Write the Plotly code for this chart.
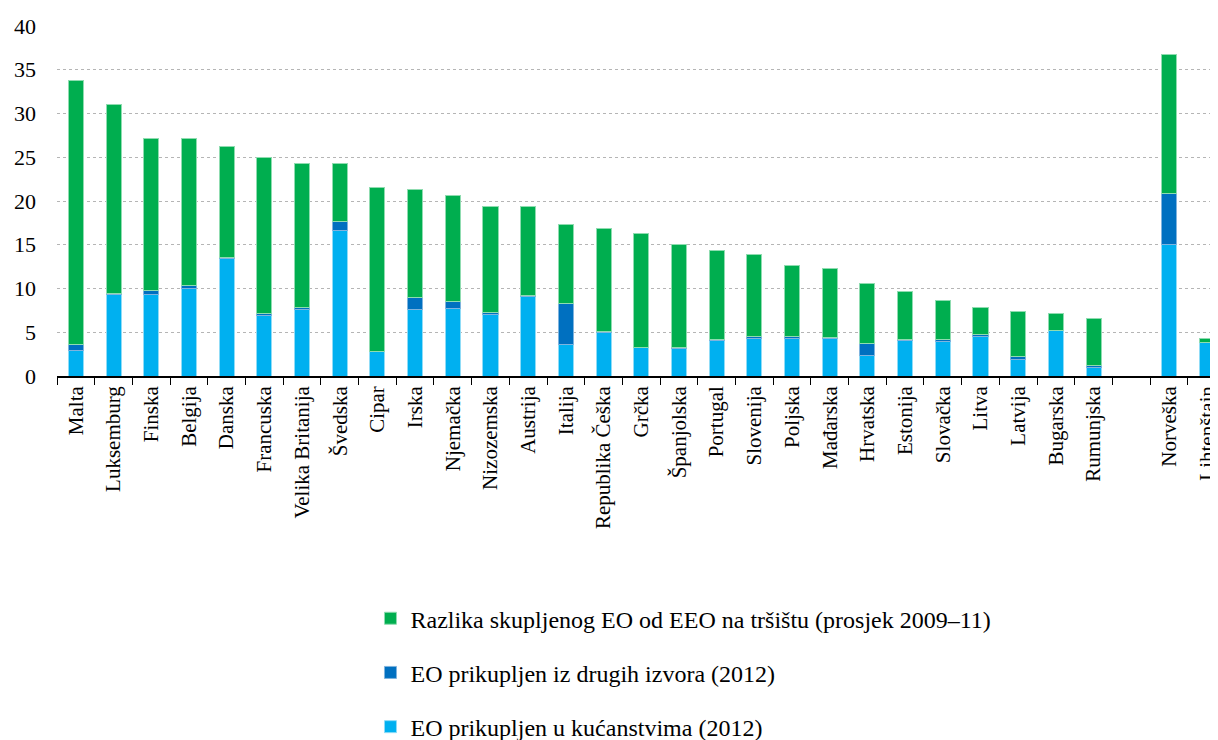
import plotly.graph_objects as go

countries = ["Malta", "Luksemburg", "Finska", "Belgija", "Danska", "Francuska",
             "Velika Britanija", "Švedska", "Cipar", "Irska", "Njemačka", "Nizozemska",
             "Austrija", "Italija", "Republika Češka", "Grčka", "Španjolska", "Portugal",
             "Slovenija", "Poljska", "Mađarska", "Hrvatska", "Estonija", "Slovačka",
             "Litva", "Latvija", "Bugarska", "Rumunjska", " ", "Norveška", "Lihtenštajn"]

# EO prikupljen u kućanstvima (2012)
households = [2.9, 9.35, 9.3, 10.05, 13.45, 6.95, 7.65, 16.6, 2.8, 7.55, 7.7, 7.0,
              9.05, 3.65, 4.95, 3.25, 3.1, 4.1, 4.3, 4.3, 4.25, 2.3, 4.1, 4.0,
              4.5, 1.85, 5.15, 1.0, None, 15.05, 3.8]

# EO prikupljen iz drugih izvora (2012)
other_sources = [0.65, 0.05, 0.45, 0.35, 0.15, 0.2, 0.15, 1.1, 0.05, 1.4, 0.8, 0.3,
                 0.1, 4.65, 0.12, 0.05, 0.2, 0.05, 0.25, 0.2, 0.17, 1.4, 0.05, 0.17,
                 0.25, 0.35, 0.05, 0.15, None, 5.8, 0.02]

# Razlika skupljenog EO od EEO na tršištu (prosjek 2009-11)
difference = [30.25, 21.6, 17.45, 16.7, 12.6, 17.85, 16.5, 6.55, 18.7, 12.35, 12.1, 12.05,
              10.2, 9.0, 11.8, 13.0, 11.75, 10.25, 9.35, 8.1, 7.9, 6.9, 5.5, 4.5,
              3.1, 5.15, 1.9, 5.45, None, 15.85, 0.5]

names = ["EO prikupljen u kućanstvima (2012)",
         "EO prikupljen iz drugih izvora (2012)",
         "Razlika skupljenog EO od EEO na tršištu (prosjek 2009–11)"]
colors = ["#00B0F0", "#0070C0", "#00AE4F"]
edges = ["#8fdcf7", "#7fb3de", "#8fdcb0"]
ranks = [3, 2, 1]  # green listed first in the legend

fig = go.Figure()
for i, vals in enumerate([households, other_sources, difference]):
    fig.add_trace(go.Bar(x=countries, y=vals, name=names[i], legendgroup=str(i),
                         legendrank=ranks[i],
                         marker=dict(color=colors[i], line=dict(color=edges[i], width=1))))

# page has an 8px body margin, so the figure is a bit smaller than the window
font = "Liberation Serif, serif"
fig.update_layout(
    width=1210, height=732,
    barmode="stack", bargap=0.6,
    plot_bgcolor="white", paper_bgcolor="white",
    margin=dict(l=49, r=0, t=18, b=364, autoexpand=False),
    font=dict(family=font, size=21, color="black"),
    legend=dict(x=0.27, y=-0.629, xanchor="left", yanchor="top",
                traceorder="grouped", tracegroupgap=20,
                font=dict(family=font, size=24, color="black")),
)
fig.update_xaxes(type="category", range=[-0.5, 30.3], tickangle=-90,
                 showline=True, linecolor="black", linewidth=1.5,
                 ticks="outside", tickson="boundaries", ticklen=7, tickcolor="black",
                 showgrid=False, tickfont=dict(family=font, size=21))
fig.update_yaxes(range=[0, 40], dtick=5, showline=False, zeroline=False,
                 showgrid=True, gridcolor="#b5b5b5", griddash="dot", gridwidth=1,
                 ticklabelstandoff=20, tickfont=dict(family=font, size=22))

fig.write_html("out.html")
